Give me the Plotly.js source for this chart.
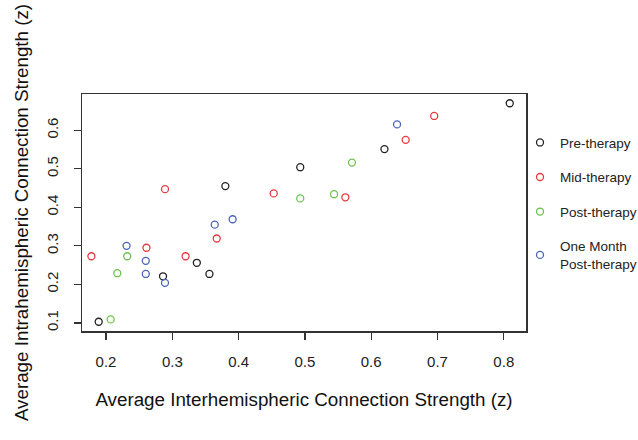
<!DOCTYPE html>
<html>
<head>
<meta charset="utf-8">
<script src="https://cdn.plot.ly/plotly-3.0.1.min.js"></script>
<style>html,body{margin:0;padding:0;background:#fff;}#chart{width:638px;height:440px;}</style>
</head>
<body>
<div id="chart"></div>
<script>
var seriesNames = ["Pre-therapy", "Mid-therapy", "Post-therapy", "One Month<br>Post-therapy"];

var preX = [0.189, 0.286, 0.337, 0.356, 0.380, 0.493, 0.620, 0.809];
var preY = [0.103, 0.221, 0.256, 0.227, 0.455, 0.504, 0.551, 0.670];

var midX = [0.178, 0.261, 0.289, 0.320, 0.367, 0.453, 0.561, 0.652, 0.695];
var midY = [0.273, 0.295, 0.447, 0.273, 0.319, 0.436, 0.426, 0.575, 0.637];

var postX = [0.207, 0.217, 0.232, 0.493, 0.544, 0.571];
var postY = [0.109, 0.229, 0.273, 0.423, 0.434, 0.516];

var monthX = [0.231, 0.260, 0.260, 0.289, 0.364, 0.391, 0.639];
var monthY = [0.300, 0.261, 0.227, 0.204, 0.355, 0.369, 0.615];

var xTicks = [0.2, 0.3, 0.4, 0.5, 0.6, 0.7, 0.8];
var yTicks = [0.1, 0.2, 0.3, 0.4, 0.5, 0.6];

var colors = ["#222222", "#e53b3f", "#6cc24e", "#4a64b8"];
var xs = [preX, midX, postX, monthX];
var ys = [preY, midY, postY, monthY];

var traces = xs.map(function (x, i) {
  return {
    x: x, y: ys[i], type: "scatter", mode: "markers",
    name: seriesNames[i], legendgroup: "g" + i,
    marker: {symbol: "circle-open", size: 7, color: colors[i], line: {width: 1.3, color: colors[i]}}
  };
});

var font = "Liberation Sans, Arial, sans-serif";
var layout = {
  width: 638, height: 440,
  margin: {l: 82, r: 112, t: 94, b: 109, autoexpand: false},
  paper_bgcolor: "#fff", plot_bgcolor: "#fff",
  font: {family: font, color: "#222"},
  showlegend: true,
  legend: {
    x: 0.9865, xanchor: "left", y: 0.86, yanchor: "top",
    font: {family: font, size: 13.5, color: "#222"},
    tracegroupgap: 14, traceorder: "grouped",
    itemwidth: 30, bgcolor: "rgba(0,0,0,0)"
  },
  xaxis: {
    range: [0.1638, 0.8335], tickvals: xTicks, ticktext: xTicks.map(String),
    showgrid: false, zeroline: false, showline: true, mirror: true,
    linecolor: "#333", linewidth: 1.5, ticks: "outside", ticklen: 7, tickwidth: 1.3, tickcolor: "#333",
    ticklabelstandoff: 9,
    tickfont: {family: font, size: 15, color: "#222"},
    title: {text: "Average Interhemispheric Connection Strength (z)", font: {family: font, size: 18.8, color: "#111"}, standoff: 24}
  },
  yaxis: {
    range: [0.079, 0.694], tickvals: yTicks, ticktext: yTicks.map(String),
    showgrid: false, zeroline: false, showline: true, mirror: true,
    linecolor: "#333", linewidth: 1.5, ticks: "outside", ticklen: 7, tickwidth: 1.3, tickcolor: "#333",
    tickangle: -90, ticklabelstandoff: 10,
    tickfont: {family: font, size: 15, color: "#222"},
    title: {text: "Average Intrahemispheric Connection Strength (z)", font: {family: font, size: 18.8, color: "#111"}, standoff: 10}
  }
};

Plotly.newPlot("chart", traces, layout, {displayModeBar: false, staticPlot: true});
</script>
</body>
</html>
